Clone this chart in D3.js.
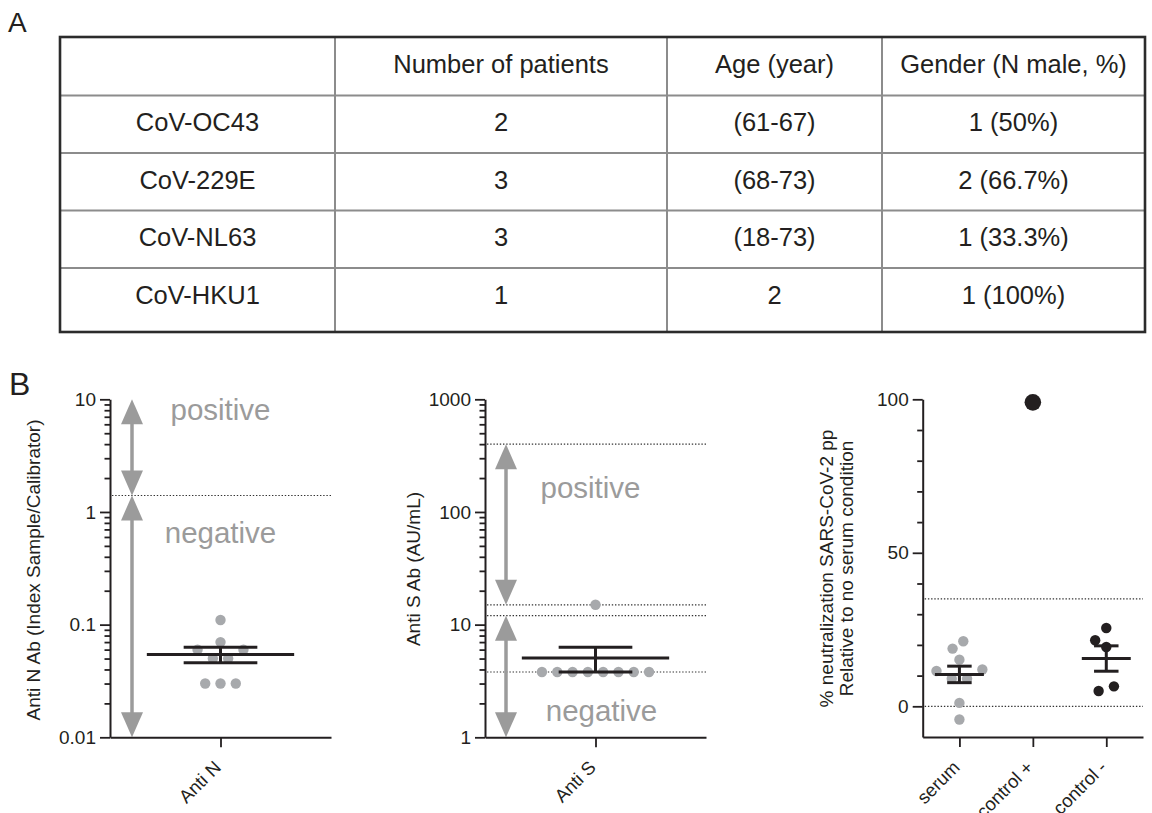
<!DOCTYPE html>
<html>
<head>
<meta charset="utf-8">
<script src="https://cdn.jsdelivr.net/npm/d3@7"></script>
<style>
  body { margin: 0; background: #fff; }
  svg { display: block; }
</style>
</head>
<body>
<div id="chart"></div>
<script>
// ---- table A ----
const tableHeader = ['', 'Number of patients', 'Age (year)', 'Gender (N male, %)'];
const strains = ['CoV-OC43', 'CoV-229E', 'CoV-NL63', 'CoV-HKU1'];
const patientCounts = ['2', '3', '3', '1'];
const ageRanges = ['(61-67)', '(68-73)', '(18-73)', '2'];
const maleCounts = ['1 (50%)', '2 (66.7%)', '1 (33.3%)', '1 (100%)'];

// ---- panel B, anti N ----
const antiNCats = ['Anti N'];
const antiN = [0.11, 0.07, 0.06, 0.06, 0.05, 0.05, 0.03, 0.03, 0.03];
const antiNCutoffs = [1.4];
const antiNZones = [
  { label: 'positive', top: 10, bottom: 1.4 },
  { label: 'negative', top: 1.4, bottom: 0.01 }
];
const antiNTicks = [0.01, 0.1, 1, 10];

// ---- panel B, anti S ----
const antiSCats = ['Anti S'];
const antiS = [3.8, 3.8, 3.8, 3.8, 3.8, 3.8, 3.8, 3.8, 15];
const antiSCutoffs = [400, 15, 12, 3.8];
const antiSZones = [
  { label: 'positive', top: 400, bottom: 15 },
  { label: 'negative', top: 12, bottom: 1 }
];
const antiSTicks = [1, 10, 100, 1000];

// ---- panel B, neutralization ----
const neutCats = ['serum', 'control +', 'control -'];
const serum = [21.2, 18.8, 15.2, 12.0, 11.5, 9.0, 9.0, 1.1, -4.3];
const controlPos = [99];
const controlNeg = [25.5, 21.5, 19.3, 6.5, 5.0];
const neutCutoffs = [35, 0];
const neutTicks = [0, 50, 100];
const neutMinorTicks = [10, 20, 30, 40, 60, 70, 80, 90];

const ink = '#231f20';
const dotGrey = '#a7a9ac';
const arrowGrey = '#9b9b9b';
const ruleGrey = '#8c8c8c';
const font = "'Liberation Sans', Arial, Helvetica, sans-serif";

const svg = d3.select('#chart').append('svg')
  .attr('width', 1152)
  .attr('height', 813)
  .style('font-family', font);

svg.append('text').attr('x', 8).attr('y', 32).attr('font-size', 28).attr('fill', ink).text('A');
svg.append('text').attr('x', 9).attr('y', 395).attr('font-size', 32).attr('fill', ink).text('B');

// ---- table ----
const colEdges = [60, 335, 667, 882, 1145];
const rowEdges = [37, 95.5, 153, 210.5, 268, 332];
const rows = [tableHeader].concat(strains.map((s, i) => [s, patientCounts[i], ageRanges[i], maleCounts[i]]));

const table = svg.append('g');
table.selectAll('line.h').data(rowEdges.slice(1, -1)).join('line')
  .attr('x1', colEdges[0]).attr('x2', colEdges[colEdges.length - 1])
  .attr('y1', d => d).attr('y2', d => d)
  .attr('stroke', ruleGrey).attr('stroke-width', 2);
table.selectAll('line.v').data(colEdges.slice(1, -1)).join('line')
  .attr('x1', d => d).attr('x2', d => d)
  .attr('y1', rowEdges[0]).attr('y2', rowEdges[rowEdges.length - 1])
  .attr('stroke', ruleGrey).attr('stroke-width', 2);
table.append('rect')
  .attr('x', colEdges[0]).attr('y', rowEdges[0])
  .attr('width', colEdges[colEdges.length - 1] - colEdges[0])
  .attr('height', rowEdges[rowEdges.length - 1] - rowEdges[0])
  .attr('fill', 'none').attr('stroke', '#2b2b2b').attr('stroke-width', 2.6);

rows.forEach((r, ri) => {
  table.selectAll(null).data(r).join('text')
    .attr('x', (d, ci) => (colEdges[ci] + colEdges[ci + 1]) / 2)
    .attr('y', rowEdges[ri] + 35.5)
    .attr('text-anchor', 'middle')
    .attr('font-size', 25.5)
    .attr('fill', ink)
    .text(d => d);
});

// ---- helpers ----
function doubleArrow(g, x, yTop, yBot) {
  const hw = 11, hl = 25;
  g.append('line')
    .attr('x1', x).attr('x2', x)
    .attr('y1', yTop + hl - 2).attr('y2', yBot - hl + 2)
    .attr('stroke', arrowGrey).attr('stroke-width', 3.5);
  g.append('path').attr('d', `M${x},${yTop}L${x + hw},${yTop + hl}L${x - hw},${yTop + hl}Z`).attr('fill', arrowGrey);
  g.append('path').attr('d', `M${x},${yBot}L${x + hw},${yBot - hl}L${x - hw},${yBot - hl}Z`).attr('fill', arrowGrey);
}

// bottom-up swarm: equal rows spread symmetrically, singles slide sideways
function swarm(values, y, s, D) {
  const pts = values.map(v => ({ v, y: y(v), dx: 0 })).sort((a, b) => b.y - a.y);
  const placed = [];
  const hit = (x0, y0) => placed.some(p => (p.dx - x0) ** 2 + (p.y - y0) ** 2 < D * D - 1e-6);
  let i = 0;
  while (i < pts.length) {
    let j = i + 1;
    while (j < pts.length && Math.abs(pts[j].y - pts[i].y) < 5) j++;
    const grp = pts.slice(i, j);
    if (grp.length === 1) {
      const p = grp[0];
      const cands = [0];
      placed.forEach(q => {
        const dy = Math.abs(q.y - p.y);
        if (dy < D) {
          const w = Math.sqrt(D * D - dy * dy);
          cands.push(q.dx - w, q.dx + w);
        }
      });
      cands.sort((a, b) => Math.abs(a) - Math.abs(b) || a - b);
      p.dx = cands.find(c => !hit(c, p.y));
    } else {
      const n = grp.length;
      for (let k = 0; k < 30; k++) {
        const offs = grp.map((_, m) => {
          const b = (m - (n - 1) / 2) * s;
          return b + Math.sign(b) * k * s;
        });
        if (grp.every((p, m) => !hit(offs[m], p.y))) {
          grp.forEach((p, m) => { p.dx = offs[m]; });
          break;
        }
      }
    }
    grp.forEach(p => placed.push(p));
    i = j;
  }
  return pts;
}

function dotPanel(o) {
  const g = svg.append('g');
  const x = d3.scalePoint().domain(o.cats).range([o.x0, o.x1]).padding(0.5);
  const y = o.log
    ? d3.scaleLog().domain(o.domain).range([737.3, 399.3])
    : d3.scaleLinear().domain(o.domain).range([737, 399.3]);
  const step = x.step();

  // cutoff lines
  g.selectAll('line.cut').data(o.cutoffs).join('line')
    .attr('x1', o.x0 + 2).attr('x2', o.x1)
    .attr('y1', d => y(d)).attr('y2', d => y(d))
    .attr('stroke', '#333').attr('stroke-width', 1.2)
    .attr('stroke-dasharray', '1.4,1.8');

  // positive / negative zones
  (o.zones || []).forEach((z, i) => {
    doubleArrow(g, o.x0 + o.arrowDx, y(z.top), y(z.bottom));
    g.append('text')
      .attr('x', x(o.cats[0]) + o.labelDx[i])
      .attr('y', y(o.labelAt[i]))
      .attr('text-anchor', 'middle')
      .attr('font-size', 29.5)
      .attr('fill', arrowGrey)
      .text(z.label);
  });

  // dots
  o.groups.forEach((vals, gi) => {
    const pts = swarm(vals, y, 15.3, 13);
    g.selectAll(null).data(pts).join('circle')
      .attr('cx', d => x(o.cats[gi]) + d.dx)
      .attr('cy', d => d.y)
      .attr('r', o.radius[gi])
      .attr('fill', o.colors[gi]);
  });

  // mean and SEM
  o.groups.forEach((vals, gi) => {
    if (vals.length < 2) return;
    const cx = x(o.cats[gi]);
    const m = d3.mean(vals);
    const sem = d3.deviation(vals) / Math.sqrt(vals.length);
    const hw = step / 3, cw = step / 6;
    const segs = [
      [cx - hw, y(m), cx + hw, y(m)],
      [cx - cw, y(m + sem), cx + cw, y(m + sem)],
      [cx - cw, y(m - sem), cx + cw, y(m - sem)],
      [cx, y(m + sem), cx, y(m - sem)]
    ];
    g.selectAll(null).data(segs).join('line')
      .attr('x1', d => d[0]).attr('y1', d => d[1])
      .attr('x2', d => d[2]).attr('y2', d => d[3])
      .attr('stroke', ink).attr('stroke-width', 3);
  });

  // axes
  const minors = o.log
    ? y.ticks().filter(d => Math.abs(Math.log10(d) - Math.round(Math.log10(d))) > 1e-6)
    : o.minors;
  const minorAxis = g.append('g').attr('transform', `translate(${o.x0},0)`)
    .call(d3.axisLeft(y).tickValues(minors).tickSize(5.5).tickSizeOuter(0).tickFormat(''));
  minorAxis.select('.domain').remove();
  minorAxis.selectAll('line').attr('stroke', ink).attr('stroke-width', 1.8);

  const yAxis = g.append('g').attr('transform', `translate(${o.x0},0)`)
    .call(d3.axisLeft(y).tickValues(o.majors).tickSize(10).tickPadding(4)
      .tickSizeOuter(0).tickFormat(d3.format('~g')));
  yAxis.select('.domain').attr('stroke', ink).attr('stroke-width', 2);
  yAxis.selectAll('line').attr('stroke', ink).attr('stroke-width', 1.8);
  yAxis.selectAll('text').attr('font-size', 19).attr('fill', ink).style('font-family', font);

  const xAxis = g.append('g').attr('transform', `translate(0,${y.range()[0]})`)
    .call(d3.axisBottom(x).tickSize(10).tickSizeOuter(0).tickFormat(''));
  xAxis.select('.domain').attr('stroke', ink).attr('stroke-width', 2);
  xAxis.selectAll('line').attr('stroke', ink).attr('stroke-width', 1.8);

  g.selectAll('text.xl').data(o.cats).join('text')
    .attr('class', 'xl')
    .attr('transform', d => `translate(${x(d) - 3},764) rotate(-45)`)
    .attr('text-anchor', 'end')
    .attr('dy', '0.35em')
    .attr('font-size', 18.5)
    .attr('fill', ink)
    .text(d => d);

  o.title.forEach((t, i) => {
    g.append('text')
      .attr('transform', `translate(${o.titleX[i]},${o.titleY}) rotate(-90)`)
      .attr('text-anchor', 'middle')
      .attr('font-size', 19)
      .attr('fill', ink)
      .text(t);
  });
}

dotPanel({
  cats: antiNCats, groups: [antiN], colors: [dotGrey], radius: [5.2],
  log: true, domain: [0.01, 10], majors: antiNTicks,
  cutoffs: antiNCutoffs, zones: antiNZones,
  x0: 110, x1: 331, arrowDx: 22, labelAt: [6.5, 0.53], labelDx: [0, 0],
  title: ['Anti N Ab (Index Sample/Calibrator)'], titleX: [39.5], titleY: 570
});

dotPanel({
  cats: antiSCats, groups: [antiS], colors: [dotGrey], radius: [5.2],
  log: true, domain: [1, 1000], majors: antiSTicks,
  cutoffs: antiSCutoffs, zones: antiSZones,
  x0: 485, x1: 706, arrowDx: 21, labelAt: [133, 1.4], labelDx: [-5, 6],
  title: ['Anti S Ab (AU/mL)'], titleX: [420], titleY: 569
});

dotPanel({
  cats: neutCats, groups: [serum, controlPos, controlNeg],
  colors: [dotGrey, ink, ink], radius: [5.2, 8.3, 5.2],
  log: false, domain: [-10, 100], majors: neutTicks, minors: neutMinorTicks,
  cutoffs: neutCutoffs,
  x0: 922.7, x1: 1143,
  title: ['% neutralization SARS-CoV-2 pp', 'Relative to no serum condition'],
  titleX: [833, 853.3], titleY: 568.5
});
</script>
</body>
</html>
